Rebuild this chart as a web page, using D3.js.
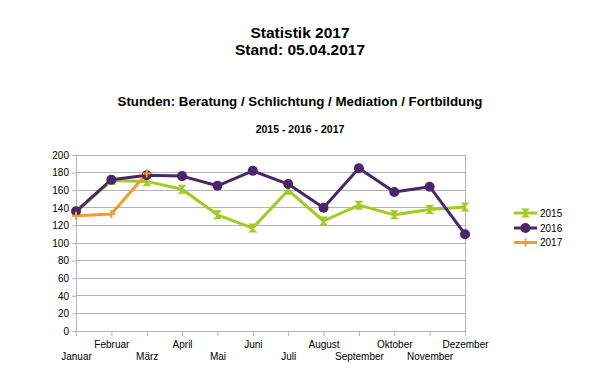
<!DOCTYPE html>
<html><head><meta charset="utf-8">
<script src="https://cdn.jsdelivr.net/npm/d3@7"></script>
<style>body{margin:0;background:#fff}svg{display:block}text{font-family:"Liberation Sans",Arial,sans-serif}</style>
</head><body><svg id="c" width="601" height="390"></svg>
<script>
const months = ["Januar","Februar","März","April","Mai","Juni","Juli","August","September","Oktober","November","Dezember"];
const v2015 = [135,171,170,161,132,117,160,125,143,132,138,141];
const v2016 = [136,172,177,176,165,182,167,140,185,158,164,110];
const v2017 = [131,133,179];
const yTicks = [0,20,40,60,80,100,120,140,160,180,200];
const seriesNames = ["2015","2016","2017"];
const colors = ["#9fcc22","#4a2669","#f39a31"];

const svg = d3.select("#c");
const x = d3.scalePoint().domain(months).range([76,465]);
const y = d3.scaleLinear().domain([0,200]).range([331,155]);

// titles
svg.append("text").attr("x",300).attr("y",38).attr("text-anchor","middle").attr("font-size",15.5).attr("font-weight","bold").text("Statistik 2017");
svg.append("text").attr("x",300).attr("y",55).attr("text-anchor","middle").attr("font-size",15.5).attr("font-weight","bold").text("Stand: 05.04.2017");
svg.append("text").attr("x",300).attr("y",105.5).attr("text-anchor","middle").attr("font-size",13.3).attr("font-weight","bold").text("Stunden: Beratung / Schlichtung / Mediation / Fortbildung");
svg.append("text").attr("x",300).attr("y",132.5).attr("text-anchor","middle").attr("font-size",10.5).attr("font-weight","bold").text("2015 - 2016 - 2017");

// grid
svg.append("g").selectAll("line").data(yTicks).join("line")
  .attr("x1",76).attr("x2",465).attr("y1",d=>y(d)).attr("y2",d=>y(d))
  .attr("stroke","#b3b3b3").attr("stroke-width",1).attr("shape-rendering","crispEdges");
svg.append("line").attr("x1",465).attr("x2",465).attr("y1",y(200)).attr("y2",y(0)).attr("stroke","#b3b3b3").attr("shape-rendering","crispEdges");

// y axis
const ya = svg.append("g").attr("transform","translate(76,0)").call(d3.axisLeft(y).tickValues(yTicks).tickSize(4).tickPadding(3));
ya.select(".domain").attr("stroke","#b3b3b3");
ya.selectAll(".tick line").attr("stroke","#b3b3b3");
ya.selectAll("text").attr("font-size",10).attr("fill","#000").attr("font-family","'Liberation Sans',Arial,sans-serif");

// x axis
const xa = svg.append("g").attr("transform","translate(0,331)").call(d3.axisBottom(x).tickSize(5).tickPadding(0));
xa.select(".domain").attr("stroke","#b3b3b3");
xa.selectAll(".tick line").attr("stroke","#b3b3b3");
xa.selectAll("text").attr("font-size",10).attr("fill","#000").attr("font-family","'Liberation Sans',Arial,sans-serif")
  .attr("dy",null).attr("y",(d,i)=> i%2===0 ? 29 : 16.5);

const line = d3.line().x((d,i)=>x(months[i])).y(d=>y(d));
const data = [v2015,v2016,v2017];

// draw lines: 2015, 2016, 2017
data.forEach((vals,k)=>{
  svg.append("path").datum(vals).attr("d",line).attr("fill","none").attr("stroke",colors[k]).attr("stroke-width",3).attr("stroke-linejoin","round");
});

function bowtie(cx,cy,s){ // hourglass
  return `M${cx-s},${cy-s}L${cx+s},${cy-s}L${cx-s},${cy+s}L${cx+s},${cy+s}Z`;
}
function drawMarkers(g,k,px,py){
  if(k===0){ g.append("path").attr("d",bowtie(px,py,4.5)).attr("fill",colors[0]); }
  else if(k===1){ g.append("circle").attr("cx",px).attr("cy",py).attr("r",5).attr("fill",colors[1]); }
  else { g.append("path").attr("d",`M${px-4},${py}L${px+4},${py}M${px},${py-4}L${px},${py+4}`).attr("stroke",colors[2]).attr("stroke-width",2); }
}
data.forEach((vals,k)=>{
  const g = svg.append("g");
  vals.forEach((v,i)=>drawMarkers(g,k,x(months[i]),y(v)));
});

// legend
const ly = [213,228,242.5];
seriesNames.forEach((n,k)=>{
  svg.append("line").attr("x1",514).attr("x2",537).attr("y1",ly[k]).attr("y2",ly[k]).attr("stroke",colors[k]).attr("stroke-width",3);
  drawMarkers(svg.append("g"),k,525.5,ly[k]);
  svg.append("text").attr("x",540).attr("y",ly[k]+3.5).attr("font-size",10).text(n);
});
</script></body></html>
